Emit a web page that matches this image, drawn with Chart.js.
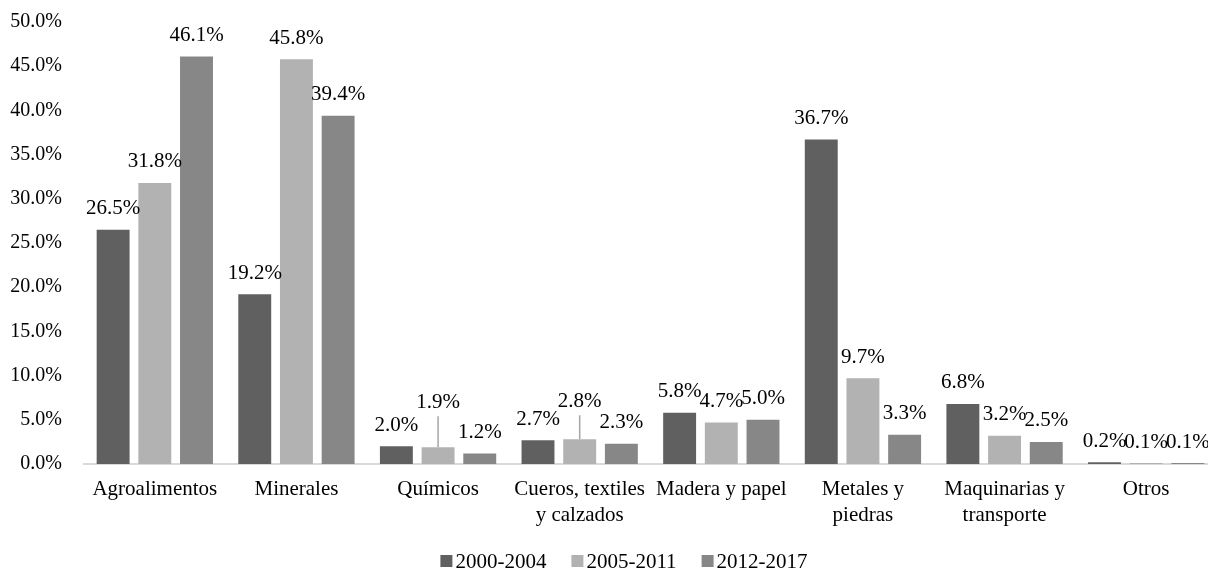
<!DOCTYPE html>
<html lang="es">
<head>
<meta charset="utf-8">
<title>Composición de exportaciones por sector</title>
<script src="https://cdn.jsdelivr.net/npm/chart.js@4.4.1/dist/chart.umd.min.js"></script>
<style>
  html, body { margin: 0; padding: 0; background: #ffffff; overflow: hidden; }
  #wrap { width: 1217px; height: 569px; }
</style>
</head>
<body>
<div id="wrap"><canvas id="chart" width="1217" height="569"></canvas></div>
<script>
// Sectores (categorías del eje X)
const categories = [
  'Agroalimentos',
  'Minerales',
  'Químicos',
  ['Cueros, textiles', 'y calzados'],
  'Madera y papel',
  ['Metales y', 'piedras'],
  ['Maquinarias y', 'transporte'],
  'Otros'
];

// Periodos (series)
const seriesLabels = ['2000-2004', '2005-2011', '2012-2017'];

// Participación por sector (%)
const values2000_2004 = [26.5, 19.2, 2.0, 2.7, 5.8, 36.7, 6.8, 0.2];
const values2005_2011 = [31.8, 45.8, 1.9, 2.8, 4.7, 9.7, 3.2, 0.1];
const values2012_2017 = [46.1, 39.4, 1.2, 2.3, 5.0, 3.3, 2.5, 0.1];

// Marcas del eje Y (%)
const yTicks = [0, 5, 10, 15, 20, 25, 30, 35, 40, 45, 50];

const seriesColors = ['#606060', '#b2b2b2', '#878787'];
const FONT = '"Liberation Serif", "Times New Roman", serif';

// Etiquetas elevadas con línea guía: "serie-índice" -> píxeles extra
const liftedLabels = { '1-2': 24, '1-3': 17 };

const valueLabels = {
  id: 'valueLabels',
  afterDatasetsDraw(chart) {
    const ctx = chart.ctx;
    ctx.save();
    ctx.font = '21px ' + FONT;
    ctx.textAlign = 'center';
    ctx.textBaseline = 'middle';
    chart.data.datasets.forEach((ds, di) => {
      const meta = chart.getDatasetMeta(di);
      meta.data.forEach((bar, i) => {
        const lift = liftedLabels[di + '-' + i] || 0;
        const y = bar.y - 21 - lift;
        if (lift) {
          ctx.strokeStyle = '#a6a6a6';
          ctx.lineWidth = 1.5;
          ctx.beginPath();
          ctx.moveTo(bar.x, y + 14);
          ctx.lineTo(bar.x, bar.y);
          ctx.stroke();
        }
        ctx.fillStyle = '#000000';
        ctx.fillText(ds.data[i].toFixed(1) + '%', bar.x, y);
      });
    });
    ctx.restore();
  }
};

const legendCenterX = 624;
const legendY = 561;
const bottomLegend = {
  id: 'bottomLegend',
  afterDraw(chart) {
    const ctx = chart.ctx;
    ctx.save();
    ctx.font = '21px ' + FONT;
    ctx.textBaseline = 'middle';
    const box = 12, gap = 3, itemGap = 25;
    const widths = chart.data.datasets.map(ds => box + gap + ctx.measureText(ds.label).width);
    const total = widths.reduce((a, b) => a + b, 0) + itemGap * (widths.length - 1);
    let x = legendCenterX - total / 2;
    chart.data.datasets.forEach((ds, i) => {
      ctx.fillStyle = ds.backgroundColor;
      ctx.fillRect(x, legendY - box / 2, box, box);
      ctx.fillStyle = '#000000';
      ctx.fillText(ds.label, x + box + gap, legendY + 1);
      x += widths[i] + itemGap;
    });
    ctx.restore();
  }
};

new Chart(document.getElementById('chart'), {
  type: 'bar',
  data: {
    labels: categories,
    datasets: [
      { label: seriesLabels[0], data: values2000_2004, backgroundColor: seriesColors[0] },
      { label: seriesLabels[1], data: values2005_2011, backgroundColor: seriesColors[1] },
      { label: seriesLabels[2], data: values2012_2017, backgroundColor: seriesColors[2] }
    ]
  },
  options: {
    responsive: false,
    animation: false,
    devicePixelRatio: 1,
    layout: { padding: { top: 22, right: 0, bottom: 0, left: 0 } },
    datasets: { bar: { categoryPercentage: 0.883, barPercentage: 0.79, borderWidth: 0 } },
    plugins: {
      legend: { display: false },
      tooltip: { enabled: false },
      title: { display: false }
    },
    scales: {
      x: {
        grid: { display: false, drawTicks: false },
        border: { display: true, color: '#d9d9d9', width: 2 },
        ticks: {
          color: '#000000',
          padding: 12,
          maxRotation: 0,
          autoSkip: false,
          font: { family: FONT, size: 21, lineHeight: 1.24 }
        },
        afterFit(scale) { scale.height = 105; }
      },
      y: {
        min: 0,
        max: 50,
        grid: { display: false, drawTicks: false },
        border: { display: false },
        afterBuildTicks(scale) { scale.ticks = yTicks.map(v => ({ value: v })); },
        ticks: {
          color: '#000000',
          padding: 22,
          font: { family: FONT, size: 20 },
          callback: v => Number(v).toFixed(1) + '%'
        },
        afterFit(scale) {
          scale.width = 84;
          scale.paddingTop = 0;
          scale.paddingBottom = 0;
        }
      }
    }
  },
  plugins: [valueLabels, bottomLegend]
});
</script>
</body>
</html>
